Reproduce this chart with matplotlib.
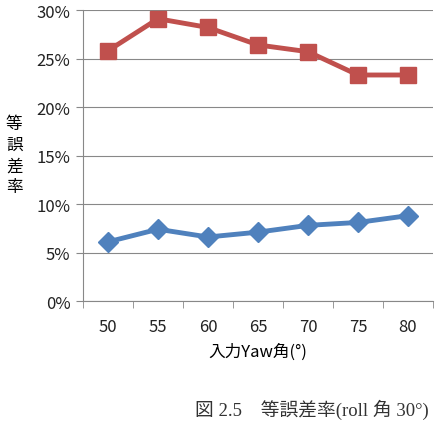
import matplotlib
matplotlib.use("Agg")
import matplotlib.pyplot as plt
import numpy as np
from matplotlib.ticker import FuncFormatter

plt.rcParams['font.family'] = ['Noto Sans CJK JP', 'DejaVu Sans']

yaw = ["50", "55", "60", "65", "70", "75", "80"]
red_vals = [25.8, 29.1, 28.2, 26.4, 25.7, 23.3, 23.3]
blue_vals = [6.1, 7.4, 6.6, 7.1, 7.8, 8.1, 8.8]

fig = plt.figure(figsize=(4.45, 4.35), dpi=100)
ax = fig.add_axes([0.1865, 0.3057, 0.7865, 0.669])

x = np.arange(len(yaw))
ax.plot(x, red_vals, color="#C0504D", lw=3.5, marker="s", ms=12, zorder=3)
ax.plot(x, blue_vals, color="#4F81BD", lw=3.5, marker="D", ms=10, zorder=3)

ax.set_xlim(-0.5, len(yaw) - 0.5)
ax.set_ylim(0, 30)
ax.set_yticks(np.arange(0, 31, 5))
ax.yaxis.set_major_formatter(FuncFormatter(lambda v, p: "%d%%" % v))
ax.set_xticks(x)
ax.set_xticklabels(yaw)
ax.set_xticks(np.arange(-0.5, len(yaw)), minor=True)
ax.tick_params(axis="x", which="major", length=0, pad=12, labelsize=12, colors="#222222")
ax.tick_params(axis="x", which="minor", length=5, color="#888888")
ax.tick_params(axis="y", length=5, color="#888888", labelsize=12, labelcolor="#222222", pad=4)

ax.grid(axis="y", color="#888888", lw=0.8)
ax.set_axisbelow(True)
for s in ["top", "right"]:
    ax.spines[s].set_visible(False)
for s in ["left", "bottom"]:
    ax.spines[s].set_color("#888888")

ax.set_xlabel("入力Yaw角(°)", fontsize=12, labelpad=6)
fig.text(0.032, 0.641, "等\n誤\n差\n率", fontsize=12, ha="center", va="center", linespacing=1.3)

fig.text(0.438, 0.057, "図 2.5　等誤差率(roll 角 30°)", fontsize=13.5,
         family=['Liberation Serif', 'Noto Sans CJK JP'], ha="left", va="center", color="#333333")

fig.savefig("out.png", dpi=100)
